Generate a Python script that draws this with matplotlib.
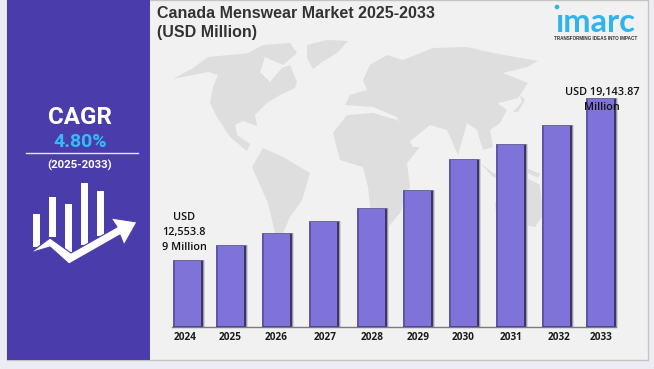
import matplotlib
matplotlib.use('Agg')
import matplotlib.pyplot as plt
from matplotlib.patches import Polygon, Rectangle, Circle

W, H = 654, 369

years = ['2024', '2025', '2026', '2027', '2028', '2029', '2030', '2031', '2032', '2033']
market_size = [12553.89, 13164, 13652, 14140, 14669, 15401, 16662, 17272, 18045, 19143.87]

# bars and labels are not evenly spaced in the picture
bar_left = [173, 216, 262, 309, 357, 403, 449, 496, 542, 586]
year_x = [185, 230, 276, 325, 372, 418, 463, 511, 559, 601]
bar_width = 30
base_value = 9828

# map outlines, in picture pixels
north_america = [(173, 79), (193, 68), (208, 57), (230, 55), (250, 53), (265, 57), (260, 72), (270, 82), (282, 68),
                 (290, 65), (297, 82), (295, 88), (280, 95), (267, 103), (255, 115), (257, 126), (243, 121),
                 (235, 125), (237, 135), (250, 144), (247, 151), (230, 137), (217, 117), (210, 103), (213, 87),
                 (218, 75), (208, 72)]
arctic = [(248, 53), (263, 45), (290, 43), (297, 53), (283, 65), (265, 57)]
greenland = [(307, 45), (327, 40), (348, 41), (337, 53), (322, 62), (313, 69), (307, 58)]
south_america = [(252, 167), (263, 148), (283, 157), (310, 173), (302, 200), (290, 217), (283, 233), (275, 233),
                 (268, 203)]
africa = [(333, 133), (347, 115), (373, 113), (397, 120), (413, 147), (420, 147), (407, 163), (410, 187),
          (400, 213), (383, 233), (373, 230), (368, 187), (363, 167), (340, 160)]
eurasia = [(345, 105), (350, 95), (367, 90), (363, 80), (370, 65), (387, 55), (403, 60), (433, 48), (467, 47),
           (493, 53), (538, 61), (527, 67), (503, 73), (528, 83), (518, 98), (503, 102), (497, 103), (507, 110),
           (500, 123), (490, 130), (493, 147), (483, 150), (477, 130), (467, 123), (458, 155), (447, 130),
           (430, 125), (408, 143), (400, 127), (397, 117), (373, 107)]
japan = [(513, 112), (522, 102), (520, 95), (525, 100), (518, 112)]
indonesia = [(480, 163), (493, 173), (510, 178), (510, 181), (493, 177)]
new_guinea = [(527, 168), (540, 174), (538, 178), (528, 173)]
australia = [(495, 203), (510, 188), (527, 178), (540, 185), (543, 215), (535, 227), (510, 222), (497, 225)]
land = [north_america, arctic, greenland, south_america, africa, eurasia, japan, indonesia, new_guinea, australia]

# left panel icon
icon_bars = [(33, 214, 247), (49, 197, 237), (65, 204, 252), (81, 183, 245), (97, 191, 236)]
icon_arrow = [(30, 253), (50, 238), (71, 253), (117, 227), (111, 218), (137, 222), (124, 245), (120, 235), (69, 264),
              (50, 247)]

fig = plt.figure(figsize=(W / 100, H / 100), dpi=100, facecolor='#ececf3')

# everything except the bars is placed in picture pixels
bg = fig.add_axes([0, 0, 1, 1])
bg.set_xlim(0, W)
bg.set_ylim(H, 0)
bg.axis('off')

bg.add_patch(Rectangle((7, 0), 641, 359.5, fc='#f1f1f1', ec='#c4c4c4', lw=1))
bg.add_patch(Rectangle((7, 0), 143, 359.5, fc='#4a3dab', ec='none'))

for shape in land:
    bg.add_patch(Polygon(shape, fc='#dedede', ec='none'))

bg.text(157, 14, 'Canada Menswear Market 2025-2033', fontsize=11.5, fontweight='bold', family='Liberation Sans',
        color='#333333', va='center')
bg.text(157, 33, '(USD Million)', fontsize=11.5, fontweight='bold', family='Liberation Sans',
        color='#333333', va='center')

bg.text(80, 117, 'CAGR', fontsize=17.4, fontweight='bold', family='Roboto', color='white', ha='center', va='center')
bg.text(80, 142, '4.80%', fontsize=14, fontweight='bold', family='Roboto', color='#33bdf2', ha='center', va='center')
bg.plot([26, 138], [153, 153], color='#e8e6f5', lw=1)
bg.text(80, 165, '(2025-2033)', fontsize=8.2, fontweight='bold', family='Roboto', color='white',
        ha='center', va='center')

for left, top, bottom in icon_bars:
    bg.add_patch(Rectangle((left, top), 7, bottom - top, fc='white', ec='none'))
bg.add_patch(Polygon(icon_arrow, fc='white', ec='#4a3dab', lw=0.8))

# logo
bg.add_patch(Circle((557, 7), 2.3, fc='#2fb4ee', ec='none'))
bg.text(595.5, 22, '\u0131marc', fontsize=23.5, fontweight='bold', family='Lato', color='#2fb4ee',
        ha='center', va='center')
bg.text(595.5, 39, 'TRANSFORMING IDEAS INTO IMPACT', fontsize=3.3, fontweight='bold', family='Liberation Sans',
        color='#333333', ha='center', va='center')

# bars, y scale fitted so both labelled values land where they are in the picture
top_y, base_y = 98, 327
ax = fig.add_axes([0, (H - base_y) / H, 1, (base_y - top_y) / H])
ax.set_xlim(0, W)
ax.set_ylim(base_value, market_size[-1])
ax.axis('off')
ax.patch.set_alpha(0)

heights = [v - base_value for v in market_size]
opts = dict(bottom=base_value, align='edge', clip_on=False)
ax.bar(bar_left, heights, width=bar_width, color='#7f72d8', zorder=2, **opts)
ax.bar(bar_left, heights, width=1.5, color='#5f55ad', zorder=3, **opts)
ax.bar([x + bar_width - 2.5 for x in bar_left], heights, width=2.5, color='#3c3566', zorder=3, **opts)
ax.bar([x + bar_width for x in bar_left], heights, width=1.2, color='#9a9aa6', zorder=1, **opts)
ax.bar([x + bar_width + 1.2 for x in bar_left], heights, width=1.2, color='#d2d2d6', zorder=1, **opts)
ax.bar(bar_left, [40] * len(years), width=bar_width, bottom=[v - 40 for v in market_size], align='edge',
       color='#6a6a9a', zorder=4, clip_on=False)
ax.bar(bar_left, [40] * len(years), width=bar_width, bottom=base_value, align='edge', color='#4d4590', zorder=4,
       clip_on=False)
ax.plot([172, 616], [base_value, base_value], color='#7c7c7c', lw=1, zorder=1, clip_on=False)

for x, year in zip(year_x, years):
    bg.text(x, 338, year, fontsize=7.2, fontweight='bold', family='Open Sans', color='#1a1a1a',
            ha='center', va='center')

for y, s in [(218, 'USD'), (233, '12,553.8'), (247, '9 Million')]:
    bg.text(184, y, s, fontsize=7.8, family='Open Sans', fontweight='semibold', color='#111111',
            ha='center', va='center', zorder=10)
fig.text(602 / W, 1 - 92.5 / H, 'USD 19,143.87', fontsize=7.8, family='Open Sans', fontweight='semibold',
         color='#111111', ha='center', va='center', zorder=10)
fig.text(602 / W, 1 - 108 / H, 'Million', fontsize=7.8, family='Open Sans', fontweight='semibold',
         color='#111111', ha='center', va='center', zorder=10)

fig.savefig('out.png', dpi=100, facecolor=fig.get_facecolor())
